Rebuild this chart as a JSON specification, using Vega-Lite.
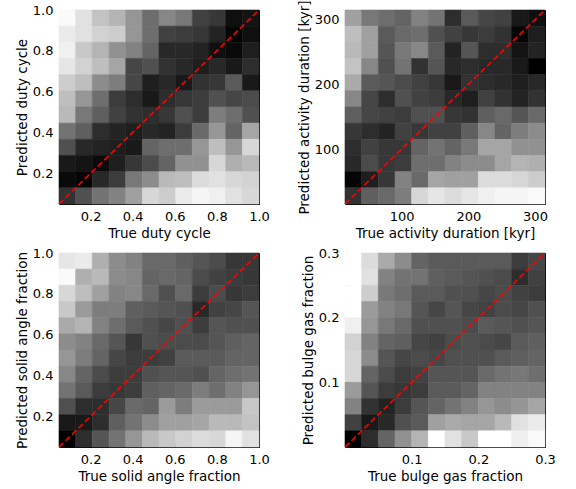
{
"$schema":"https://vega.github.io/schema/vega-lite/v6.json",
"padding":{"left":14,"top":-1,"right":5,"bottom":5},
"bounds":"flush",
"columns":2,
"spacing":{"row":49,"column":86},
"config":{
 "view":{"stroke":"#000000","strokeWidth":1},
 "font":"DejaVu Sans",
 "axis":{"labelFont":"DejaVu Sans","titleFont":"DejaVu Sans","labelFontSize":13,"titleFontSize":13.5,"titleFontWeight":"normal","labelColor":"#000000","titleColor":"#000000","tickColor":"#000000","tickSize":-4,"labelPadding":10,"titlePadding":3,"domain":false,"grid":false,"labelFlush":false,"labelOverlap":false}
},
"datasets":{
"a":[
{"x":0.05,"x2":0.129,"y":0.921,"y2":1,"g":250},{"x":0.129,"x2":0.208,"y":0.921,"y2":1,"g":225},{"x":0.208,"x2":0.288,"y":0.921,"y2":1,"g":195},{"x":0.288,"x2":0.367,"y":0.921,"y2":1,"g":180},{"x":0.367,"x2":0.446,"y":0.921,"y2":1,"g":150},{"x":0.446,"x2":0.525,"y":0.921,"y2":1,"g":110},{"x":0.525,"x2":0.604,"y":0.921,"y2":1,"g":135},{"x":0.604,"x2":0.683,"y":0.921,"y2":1,"g":120},{"x":0.683,"x2":0.763,"y":0.921,"y2":1,"g":65},{"x":0.763,"x2":0.842,"y":0.921,"y2":1,"g":55},{"x":0.842,"x2":0.921,"y":0.921,"y2":1,"g":15},{"x":0.921,"x2":1,"y":0.921,"y2":1,"g":20},
{"x":0.05,"x2":0.129,"y":0.842,"y2":0.921,"g":235},{"x":0.129,"x2":0.208,"y":0.842,"y2":0.921,"g":225},{"x":0.208,"x2":0.288,"y":0.842,"y2":0.921,"g":210},{"x":0.288,"x2":0.367,"y":0.842,"y2":0.921,"g":205},{"x":0.367,"x2":0.446,"y":0.842,"y2":0.921,"g":150},{"x":0.446,"x2":0.525,"y":0.842,"y2":0.921,"g":110},{"x":0.525,"x2":0.604,"y":0.842,"y2":0.921,"g":65},{"x":0.604,"x2":0.683,"y":0.842,"y2":0.921,"g":60},{"x":0.683,"x2":0.763,"y":0.842,"y2":0.921,"g":55},{"x":0.763,"x2":0.842,"y":0.842,"y2":0.921,"g":35},{"x":0.842,"x2":0.921,"y":0.842,"y2":0.921,"g":5},{"x":0.921,"x2":1,"y":0.842,"y2":0.921,"g":15},
{"x":0.05,"x2":0.129,"y":0.763,"y2":0.842,"g":240},{"x":0.129,"x2":0.208,"y":0.763,"y2":0.842,"g":200},{"x":0.208,"x2":0.288,"y":0.763,"y2":0.842,"g":180},{"x":0.288,"x2":0.367,"y":0.763,"y2":0.842,"g":145},{"x":0.367,"x2":0.446,"y":0.763,"y2":0.842,"g":130},{"x":0.446,"x2":0.525,"y":0.763,"y2":0.842,"g":100},{"x":0.525,"x2":0.604,"y":0.763,"y2":0.842,"g":40},{"x":0.604,"x2":0.683,"y":0.763,"y2":0.842,"g":40},{"x":0.683,"x2":0.763,"y":0.763,"y2":0.842,"g":35},{"x":0.763,"x2":0.842,"y":0.763,"y2":0.842,"g":15},{"x":0.842,"x2":0.921,"y":0.763,"y2":0.842,"g":10},{"x":0.921,"x2":1,"y":0.763,"y2":0.842,"g":30},
{"x":0.05,"x2":0.129,"y":0.683,"y2":0.763,"g":230},{"x":0.129,"x2":0.208,"y":0.683,"y2":0.763,"g":210},{"x":0.208,"x2":0.288,"y":0.683,"y2":0.763,"g":190},{"x":0.288,"x2":0.367,"y":0.683,"y2":0.763,"g":165},{"x":0.367,"x2":0.446,"y":0.683,"y2":0.763,"g":70},{"x":0.446,"x2":0.525,"y":0.683,"y2":0.763,"g":80},{"x":0.525,"x2":0.604,"y":0.683,"y2":0.763,"g":50},{"x":0.604,"x2":0.683,"y":0.683,"y2":0.763,"g":40},{"x":0.683,"x2":0.763,"y":0.683,"y2":0.763,"g":30},{"x":0.763,"x2":0.842,"y":0.683,"y2":0.763,"g":40},{"x":0.842,"x2":0.921,"y":0.683,"y2":0.763,"g":25},{"x":0.921,"x2":1,"y":0.683,"y2":0.763,"g":45},
{"x":0.05,"x2":0.129,"y":0.604,"y2":0.683,"g":205},{"x":0.129,"x2":0.208,"y":0.604,"y2":0.683,"g":190},{"x":0.208,"x2":0.288,"y":0.604,"y2":0.683,"g":140},{"x":0.288,"x2":0.367,"y":0.604,"y2":0.683,"g":125},{"x":0.367,"x2":0.446,"y":0.604,"y2":0.683,"g":70},{"x":0.446,"x2":0.525,"y":0.604,"y2":0.683,"g":30},{"x":0.525,"x2":0.604,"y":0.604,"y2":0.683,"g":40},{"x":0.604,"x2":0.683,"y":0.604,"y2":0.683,"g":25},{"x":0.683,"x2":0.763,"y":0.604,"y2":0.683,"g":50},{"x":0.763,"x2":0.842,"y":0.604,"y2":0.683,"g":55},{"x":0.842,"x2":0.921,"y":0.604,"y2":0.683,"g":90},{"x":0.921,"x2":1,"y":0.604,"y2":0.683,"g":25},
{"x":0.05,"x2":0.129,"y":0.525,"y2":0.604,"g":190},{"x":0.129,"x2":0.208,"y":0.525,"y2":0.604,"g":150},{"x":0.208,"x2":0.288,"y":0.525,"y2":0.604,"g":110},{"x":0.288,"x2":0.367,"y":0.525,"y2":0.604,"g":60},{"x":0.367,"x2":0.446,"y":0.525,"y2":0.604,"g":45},{"x":0.446,"x2":0.525,"y":0.525,"y2":0.604,"g":25},{"x":0.525,"x2":0.604,"y":0.525,"y2":0.604,"g":45},{"x":0.604,"x2":0.683,"y":0.525,"y2":0.604,"g":55},{"x":0.683,"x2":0.763,"y":0.525,"y2":0.604,"g":60},{"x":0.763,"x2":0.842,"y":0.525,"y2":0.604,"g":80},{"x":0.842,"x2":0.921,"y":0.525,"y2":0.604,"g":70},{"x":0.921,"x2":1,"y":0.525,"y2":0.604,"g":75},
{"x":0.05,"x2":0.129,"y":0.446,"y2":0.525,"g":185},{"x":0.129,"x2":0.208,"y":0.446,"y2":0.525,"g":120},{"x":0.208,"x2":0.288,"y":0.446,"y2":0.525,"g":95},{"x":0.288,"x2":0.367,"y":0.446,"y2":0.525,"g":65},{"x":0.367,"x2":0.446,"y":0.446,"y2":0.525,"g":50},{"x":0.446,"x2":0.525,"y":0.446,"y2":0.525,"g":45},{"x":0.525,"x2":0.604,"y":0.446,"y2":0.525,"g":55},{"x":0.604,"x2":0.683,"y":0.446,"y2":0.525,"g":80},{"x":0.683,"x2":0.763,"y":0.446,"y2":0.525,"g":60},{"x":0.763,"x2":0.842,"y":0.446,"y2":0.525,"g":125},{"x":0.842,"x2":0.921,"y":0.446,"y2":0.525,"g":110},{"x":0.921,"x2":1,"y":0.446,"y2":0.525,"g":80},
{"x":0.05,"x2":0.129,"y":0.367,"y2":0.446,"g":115},{"x":0.129,"x2":0.208,"y":0.367,"y2":0.446,"g":95},{"x":0.208,"x2":0.288,"y":0.367,"y2":0.446,"g":45},{"x":0.288,"x2":0.367,"y":0.367,"y2":0.446,"g":35},{"x":0.367,"x2":0.446,"y":0.367,"y2":0.446,"g":30},{"x":0.446,"x2":0.525,"y":0.367,"y2":0.446,"g":40},{"x":0.525,"x2":0.604,"y":0.367,"y2":0.446,"g":35},{"x":0.604,"x2":0.683,"y":0.367,"y2":0.446,"g":60},{"x":0.683,"x2":0.763,"y":0.367,"y2":0.446,"g":105},{"x":0.763,"x2":0.842,"y":0.367,"y2":0.446,"g":150},{"x":0.842,"x2":0.921,"y":0.367,"y2":0.446,"g":100},{"x":0.921,"x2":1,"y":0.367,"y2":0.446,"g":165},
{"x":0.05,"x2":0.129,"y":0.288,"y2":0.367,"g":80},{"x":0.129,"x2":0.208,"y":0.288,"y2":0.367,"g":40},{"x":0.208,"x2":0.288,"y":0.288,"y2":0.367,"g":35},{"x":0.288,"x2":0.367,"y":0.288,"y2":0.367,"g":30},{"x":0.367,"x2":0.446,"y":0.288,"y2":0.367,"g":25},{"x":0.446,"x2":0.525,"y":0.288,"y2":0.367,"g":100},{"x":0.525,"x2":0.604,"y":0.288,"y2":0.367,"g":110},{"x":0.604,"x2":0.683,"y":0.288,"y2":0.367,"g":110},{"x":0.683,"x2":0.763,"y":0.288,"y2":0.367,"g":150},{"x":0.763,"x2":0.842,"y":0.288,"y2":0.367,"g":190},{"x":0.842,"x2":0.921,"y":0.288,"y2":0.367,"g":150},{"x":0.921,"x2":1,"y":0.288,"y2":0.367,"g":215},
{"x":0.05,"x2":0.129,"y":0.208,"y2":0.288,"g":25},{"x":0.129,"x2":0.208,"y":0.208,"y2":0.288,"g":20},{"x":0.208,"x2":0.288,"y":0.208,"y2":0.288,"g":10},{"x":0.288,"x2":0.367,"y":0.208,"y2":0.288,"g":30},{"x":0.367,"x2":0.446,"y":0.208,"y2":0.288,"g":55},{"x":0.446,"x2":0.525,"y":0.208,"y2":0.288,"g":75},{"x":0.525,"x2":0.604,"y":0.208,"y2":0.288,"g":100},{"x":0.604,"x2":0.683,"y":0.208,"y2":0.288,"g":145},{"x":0.683,"x2":0.763,"y":0.208,"y2":0.288,"g":145},{"x":0.763,"x2":0.842,"y":0.208,"y2":0.288,"g":215},{"x":0.842,"x2":0.921,"y":0.208,"y2":0.288,"g":175},{"x":0.921,"x2":1,"y":0.208,"y2":0.288,"g":185},
{"x":0.05,"x2":0.129,"y":0.129,"y2":0.208,"g":10},{"x":0.129,"x2":0.208,"y":0.129,"y2":0.208,"g":5},{"x":0.208,"x2":0.288,"y":0.129,"y2":0.208,"g":40},{"x":0.288,"x2":0.367,"y":0.129,"y2":0.208,"g":60},{"x":0.367,"x2":0.446,"y":0.129,"y2":0.208,"g":120},{"x":0.446,"x2":0.525,"y":0.129,"y2":0.208,"g":140},{"x":0.525,"x2":0.604,"y":0.129,"y2":0.208,"g":185},{"x":0.604,"x2":0.683,"y":0.129,"y2":0.208,"g":190},{"x":0.683,"x2":0.763,"y":0.129,"y2":0.208,"g":220},{"x":0.763,"x2":0.842,"y":0.129,"y2":0.208,"g":225},{"x":0.842,"x2":0.921,"y":0.129,"y2":0.208,"g":215},{"x":0.921,"x2":1,"y":0.129,"y2":0.208,"g":210},
{"x":0.05,"x2":0.129,"y":0.05,"y2":0.129,"g":50},{"x":0.129,"x2":0.208,"y":0.05,"y2":0.129,"g":80},{"x":0.208,"x2":0.288,"y":0.05,"y2":0.129,"g":115},{"x":0.288,"x2":0.367,"y":0.05,"y2":0.129,"g":130},{"x":0.367,"x2":0.446,"y":0.05,"y2":0.129,"g":160},{"x":0.446,"x2":0.525,"y":0.05,"y2":0.129,"g":215},{"x":0.525,"x2":0.604,"y":0.05,"y2":0.129,"g":205},{"x":0.604,"x2":0.683,"y":0.05,"y2":0.129,"g":235},{"x":0.683,"x2":0.763,"y":0.05,"y2":0.129,"g":245},{"x":0.763,"x2":0.842,"y":0.05,"y2":0.129,"g":240},{"x":0.842,"x2":0.921,"y":0.05,"y2":0.129,"g":225},{"x":0.921,"x2":1,"y":0.05,"y2":0.129,"g":215}
],
"b":[
{"x":15,"x2":40,"y":290,"y2":315,"g":160},{"x":40,"x2":65,"y":290,"y2":315,"g":120},{"x":65,"x2":90,"y":290,"y2":315,"g":110},{"x":90,"x2":115,"y":290,"y2":315,"g":100},{"x":115,"x2":140,"y":290,"y2":315,"g":130},{"x":140,"x2":165,"y":290,"y2":315,"g":115},{"x":165,"x2":190,"y":290,"y2":315,"g":45},{"x":190,"x2":215,"y":290,"y2":315,"g":90},{"x":215,"x2":240,"y":290,"y2":315,"g":70},{"x":240,"x2":265,"y":290,"y2":315,"g":65},{"x":265,"x2":290,"y":290,"y2":315,"g":25},{"x":290,"x2":315,"y":290,"y2":315,"g":15},
{"x":15,"x2":40,"y":265,"y2":290,"g":190},{"x":40,"x2":65,"y":265,"y2":290,"g":160},{"x":65,"x2":90,"y":265,"y2":290,"g":90},{"x":90,"x2":115,"y":265,"y2":290,"g":105},{"x":115,"x2":140,"y":265,"y2":290,"g":110},{"x":140,"x2":165,"y":265,"y2":290,"g":80},{"x":165,"x2":190,"y":265,"y2":290,"g":65},{"x":190,"x2":215,"y":265,"y2":290,"g":55},{"x":215,"x2":240,"y":265,"y2":290,"g":60},{"x":240,"x2":265,"y":265,"y2":290,"g":50},{"x":265,"x2":290,"y":265,"y2":290,"g":5},{"x":290,"x2":315,"y":265,"y2":290,"g":30},
{"x":15,"x2":40,"y":240,"y2":265,"g":185},{"x":40,"x2":65,"y":240,"y2":265,"g":160},{"x":65,"x2":90,"y":240,"y2":265,"g":85},{"x":90,"x2":115,"y":240,"y2":265,"g":120},{"x":115,"x2":140,"y":240,"y2":265,"g":135},{"x":140,"x2":165,"y":240,"y2":265,"g":90},{"x":165,"x2":190,"y":240,"y2":265,"g":35},{"x":190,"x2":215,"y":240,"y2":265,"g":85},{"x":215,"x2":240,"y":240,"y2":265,"g":45},{"x":240,"x2":265,"y":240,"y2":265,"g":45},{"x":265,"x2":290,"y":240,"y2":265,"g":20},{"x":290,"x2":315,"y":240,"y2":265,"g":35},
{"x":15,"x2":40,"y":215,"y2":240,"g":195},{"x":40,"x2":65,"y":215,"y2":240,"g":135},{"x":65,"x2":90,"y":215,"y2":240,"g":80},{"x":90,"x2":115,"y":215,"y2":240,"g":115},{"x":115,"x2":140,"y":215,"y2":240,"g":50},{"x":140,"x2":165,"y":215,"y2":240,"g":85},{"x":165,"x2":190,"y":215,"y2":240,"g":40},{"x":190,"x2":215,"y":215,"y2":240,"g":45},{"x":215,"x2":240,"y":215,"y2":240,"g":40},{"x":240,"x2":265,"y":215,"y2":240,"g":40},{"x":265,"x2":290,"y":215,"y2":240,"g":25},{"x":290,"x2":315,"y":215,"y2":240,"g":0},
{"x":15,"x2":40,"y":190,"y2":215,"g":170},{"x":40,"x2":65,"y":190,"y2":215,"g":90},{"x":65,"x2":90,"y":190,"y2":215,"g":85},{"x":90,"x2":115,"y":190,"y2":215,"g":75},{"x":115,"x2":140,"y":190,"y2":215,"g":65},{"x":140,"x2":165,"y":190,"y2":215,"g":55},{"x":165,"x2":190,"y":190,"y2":215,"g":25},{"x":190,"x2":215,"y":190,"y2":215,"g":50},{"x":215,"x2":240,"y":190,"y2":215,"g":45},{"x":240,"x2":265,"y":190,"y2":215,"g":40},{"x":265,"x2":290,"y":190,"y2":215,"g":30},{"x":290,"x2":315,"y":190,"y2":215,"g":40},
{"x":15,"x2":40,"y":165,"y2":190,"g":135},{"x":40,"x2":65,"y":165,"y2":190,"g":70},{"x":65,"x2":90,"y":165,"y2":190,"g":45},{"x":90,"x2":115,"y":165,"y2":190,"g":80},{"x":115,"x2":140,"y":165,"y2":190,"g":65},{"x":140,"x2":165,"y":165,"y2":190,"g":60},{"x":165,"x2":190,"y":165,"y2":190,"g":40},{"x":190,"x2":215,"y":165,"y2":190,"g":30},{"x":215,"x2":240,"y":165,"y2":190,"g":65},{"x":240,"x2":265,"y":165,"y2":190,"g":50},{"x":265,"x2":290,"y":165,"y2":190,"g":35},{"x":290,"x2":315,"y":165,"y2":190,"g":50},
{"x":15,"x2":40,"y":140,"y2":165,"g":95},{"x":40,"x2":65,"y":140,"y2":165,"g":70},{"x":65,"x2":90,"y":140,"y2":165,"g":65},{"x":90,"x2":115,"y":140,"y2":165,"g":60},{"x":115,"x2":140,"y":140,"y2":165,"g":80},{"x":140,"x2":165,"y":140,"y2":165,"g":80},{"x":165,"x2":190,"y":140,"y2":165,"g":55},{"x":190,"x2":215,"y":140,"y2":165,"g":50},{"x":215,"x2":240,"y":140,"y2":165,"g":95},{"x":240,"x2":265,"y":140,"y2":165,"g":105},{"x":265,"x2":290,"y":140,"y2":165,"g":85},{"x":290,"x2":315,"y":140,"y2":165,"g":105},
{"x":15,"x2":40,"y":115,"y2":140,"g":55},{"x":40,"x2":65,"y":115,"y2":140,"g":45},{"x":65,"x2":90,"y":115,"y2":140,"g":35},{"x":90,"x2":115,"y":115,"y2":140,"g":65},{"x":115,"x2":140,"y":115,"y2":140,"g":55},{"x":140,"x2":165,"y":115,"y2":140,"g":65},{"x":165,"x2":190,"y":115,"y2":140,"g":65},{"x":190,"x2":215,"y":115,"y2":140,"g":95},{"x":215,"x2":240,"y":115,"y2":140,"g":135},{"x":240,"x2":265,"y":115,"y2":140,"g":100},{"x":265,"x2":290,"y":115,"y2":140,"g":125},{"x":290,"x2":315,"y":115,"y2":140,"g":140},
{"x":15,"x2":40,"y":90,"y2":115,"g":45},{"x":40,"x2":65,"y":90,"y2":115,"g":65},{"x":65,"x2":90,"y":90,"y2":115,"g":55},{"x":90,"x2":115,"y":90,"y2":115,"g":55},{"x":115,"x2":140,"y":90,"y2":115,"g":100},{"x":140,"x2":165,"y":90,"y2":115,"g":115},{"x":165,"x2":190,"y":90,"y2":115,"g":100},{"x":190,"x2":215,"y":90,"y2":115,"g":120},{"x":215,"x2":240,"y":90,"y2":115,"g":165},{"x":240,"x2":265,"y":90,"y2":115,"g":165},{"x":265,"x2":290,"y":90,"y2":115,"g":145},{"x":290,"x2":315,"y":90,"y2":115,"g":145},
{"x":15,"x2":40,"y":65,"y2":90,"g":40},{"x":40,"x2":65,"y":65,"y2":90,"g":75},{"x":65,"x2":90,"y":65,"y2":90,"g":55},{"x":90,"x2":115,"y":65,"y2":90,"g":60},{"x":115,"x2":140,"y":65,"y2":90,"g":110},{"x":140,"x2":165,"y":65,"y2":90,"g":110},{"x":165,"x2":190,"y":65,"y2":90,"g":130},{"x":190,"x2":215,"y":65,"y2":90,"g":140},{"x":215,"x2":240,"y":65,"y2":90,"g":140},{"x":240,"x2":265,"y":65,"y2":90,"g":165},{"x":265,"x2":290,"y":65,"y2":90,"g":180},{"x":290,"x2":315,"y":65,"y2":90,"g":175},
{"x":15,"x2":40,"y":40,"y2":65,"g":5},{"x":40,"x2":65,"y":40,"y2":65,"g":30},{"x":65,"x2":90,"y":40,"y2":65,"g":55},{"x":90,"x2":115,"y":40,"y2":65,"g":130},{"x":115,"x2":140,"y":40,"y2":65,"g":105},{"x":140,"x2":165,"y":40,"y2":65,"g":165},{"x":165,"x2":190,"y":40,"y2":65,"g":160},{"x":190,"x2":215,"y":40,"y2":65,"g":160},{"x":215,"x2":240,"y":40,"y2":65,"g":220},{"x":240,"x2":265,"y":40,"y2":65,"g":220},{"x":265,"x2":290,"y":40,"y2":65,"g":215},{"x":290,"x2":315,"y":40,"y2":65,"g":205},
{"x":15,"x2":40,"y":15,"y2":40,"g":50},{"x":40,"x2":65,"y":15,"y2":40,"g":95},{"x":65,"x2":90,"y":15,"y2":40,"g":105},{"x":90,"x2":115,"y":15,"y2":40,"g":125},{"x":115,"x2":140,"y":15,"y2":40,"g":215},{"x":140,"x2":165,"y":15,"y2":40,"g":230},{"x":165,"x2":190,"y":15,"y2":40,"g":220},{"x":190,"x2":215,"y":15,"y2":40,"g":230},{"x":215,"x2":240,"y":15,"y2":40,"g":240},{"x":240,"x2":265,"y":15,"y2":40,"g":245},{"x":265,"x2":290,"y":15,"y2":40,"g":245},{"x":290,"x2":315,"y":15,"y2":40,"g":250}
],
"c":[
{"x":0.05,"x2":0.129,"y":0.921,"y2":1,"g":230},{"x":0.129,"x2":0.208,"y":0.921,"y2":1,"g":235},{"x":0.208,"x2":0.288,"y":0.921,"y2":1,"g":175},{"x":0.288,"x2":0.367,"y":0.921,"y2":1,"g":140},{"x":0.367,"x2":0.446,"y":0.921,"y2":1,"g":130},{"x":0.446,"x2":0.525,"y":0.921,"y2":1,"g":105},{"x":0.525,"x2":0.604,"y":0.921,"y2":1,"g":105},{"x":0.604,"x2":0.683,"y":0.921,"y2":1,"g":95},{"x":0.683,"x2":0.763,"y":0.921,"y2":1,"g":85},{"x":0.763,"x2":0.842,"y":0.921,"y2":1,"g":75},{"x":0.842,"x2":0.921,"y":0.921,"y2":1,"g":55},{"x":0.921,"x2":1,"y":0.921,"y2":1,"g":55},
{"x":0.05,"x2":0.129,"y":0.842,"y2":0.921,"g":250},{"x":0.129,"x2":0.208,"y":0.842,"y2":0.921,"g":175},{"x":0.208,"x2":0.288,"y":0.842,"y2":0.921,"g":185},{"x":0.288,"x2":0.367,"y":0.842,"y2":0.921,"g":140},{"x":0.367,"x2":0.446,"y":0.842,"y2":0.921,"g":135},{"x":0.446,"x2":0.525,"y":0.842,"y2":0.921,"g":100},{"x":0.525,"x2":0.604,"y":0.842,"y2":0.921,"g":105},{"x":0.604,"x2":0.683,"y":0.842,"y2":0.921,"g":100},{"x":0.683,"x2":0.763,"y":0.842,"y2":0.921,"g":75},{"x":0.763,"x2":0.842,"y":0.842,"y2":0.921,"g":65},{"x":0.842,"x2":0.921,"y":0.842,"y2":0.921,"g":60},{"x":0.921,"x2":1,"y":0.842,"y2":0.921,"g":55},
{"x":0.05,"x2":0.129,"y":0.763,"y2":0.842,"g":215},{"x":0.129,"x2":0.208,"y":0.763,"y2":0.842,"g":190},{"x":0.208,"x2":0.288,"y":0.763,"y2":0.842,"g":160},{"x":0.288,"x2":0.367,"y":0.763,"y2":0.842,"g":130},{"x":0.367,"x2":0.446,"y":0.763,"y2":0.842,"g":135},{"x":0.446,"x2":0.525,"y":0.763,"y2":0.842,"g":105},{"x":0.525,"x2":0.604,"y":0.763,"y2":0.842,"g":80},{"x":0.604,"x2":0.683,"y":0.763,"y2":0.842,"g":105},{"x":0.683,"x2":0.763,"y":0.763,"y2":0.842,"g":60},{"x":0.763,"x2":0.842,"y":0.763,"y2":0.842,"g":75},{"x":0.842,"x2":0.921,"y":0.763,"y2":0.842,"g":55},{"x":0.921,"x2":1,"y":0.763,"y2":0.842,"g":60},
{"x":0.05,"x2":0.129,"y":0.683,"y2":0.763,"g":200},{"x":0.129,"x2":0.208,"y":0.683,"y2":0.763,"g":155},{"x":0.208,"x2":0.288,"y":0.683,"y2":0.763,"g":125},{"x":0.288,"x2":0.367,"y":0.683,"y2":0.763,"g":125},{"x":0.367,"x2":0.446,"y":0.683,"y2":0.763,"g":95},{"x":0.446,"x2":0.525,"y":0.683,"y2":0.763,"g":90},{"x":0.525,"x2":0.604,"y":0.683,"y2":0.763,"g":85},{"x":0.604,"x2":0.683,"y":0.683,"y2":0.763,"g":80},{"x":0.683,"x2":0.763,"y":0.683,"y2":0.763,"g":40},{"x":0.763,"x2":0.842,"y":0.683,"y2":0.763,"g":65},{"x":0.842,"x2":0.921,"y":0.683,"y2":0.763,"g":70},{"x":0.921,"x2":1,"y":0.683,"y2":0.763,"g":85},
{"x":0.05,"x2":0.129,"y":0.604,"y2":0.683,"g":170},{"x":0.129,"x2":0.208,"y":0.604,"y2":0.683,"g":180},{"x":0.208,"x2":0.288,"y":0.604,"y2":0.683,"g":130},{"x":0.288,"x2":0.367,"y":0.604,"y2":0.683,"g":110},{"x":0.367,"x2":0.446,"y":0.604,"y2":0.683,"g":90},{"x":0.446,"x2":0.525,"y":0.604,"y2":0.683,"g":80},{"x":0.525,"x2":0.604,"y":0.604,"y2":0.683,"g":70},{"x":0.604,"x2":0.683,"y":0.604,"y2":0.683,"g":80},{"x":0.683,"x2":0.763,"y":0.604,"y2":0.683,"g":60},{"x":0.763,"x2":0.842,"y":0.604,"y2":0.683,"g":85},{"x":0.842,"x2":0.921,"y":0.604,"y2":0.683,"g":80},{"x":0.921,"x2":1,"y":0.604,"y2":0.683,"g":80},
{"x":0.05,"x2":0.129,"y":0.525,"y2":0.604,"g":140},{"x":0.129,"x2":0.208,"y":0.525,"y2":0.604,"g":130},{"x":0.208,"x2":0.288,"y":0.525,"y2":0.604,"g":105},{"x":0.288,"x2":0.367,"y":0.525,"y2":0.604,"g":85},{"x":0.367,"x2":0.446,"y":0.525,"y2":0.604,"g":55},{"x":0.446,"x2":0.525,"y":0.525,"y2":0.604,"g":80},{"x":0.525,"x2":0.604,"y":0.525,"y2":0.604,"g":75},{"x":0.604,"x2":0.683,"y":0.525,"y2":0.604,"g":75},{"x":0.683,"x2":0.763,"y":0.525,"y2":0.604,"g":75},{"x":0.763,"x2":0.842,"y":0.525,"y2":0.604,"g":85},{"x":0.842,"x2":0.921,"y":0.525,"y2":0.604,"g":95},{"x":0.921,"x2":1,"y":0.525,"y2":0.604,"g":100},
{"x":0.05,"x2":0.129,"y":0.446,"y2":0.525,"g":150},{"x":0.129,"x2":0.208,"y":0.446,"y2":0.525,"g":125},{"x":0.208,"x2":0.288,"y":0.446,"y2":0.525,"g":100},{"x":0.288,"x2":0.367,"y":0.446,"y2":0.525,"g":70},{"x":0.367,"x2":0.446,"y":0.446,"y2":0.525,"g":60},{"x":0.446,"x2":0.525,"y":0.446,"y2":0.525,"g":60},{"x":0.525,"x2":0.604,"y":0.446,"y2":0.525,"g":65},{"x":0.604,"x2":0.683,"y":0.446,"y2":0.525,"g":90},{"x":0.683,"x2":0.763,"y":0.446,"y2":0.525,"g":90},{"x":0.763,"x2":0.842,"y":0.446,"y2":0.525,"g":90},{"x":0.842,"x2":0.921,"y":0.446,"y2":0.525,"g":100},{"x":0.921,"x2":1,"y":0.446,"y2":0.525,"g":100},
{"x":0.05,"x2":0.129,"y":0.367,"y2":0.446,"g":135},{"x":0.129,"x2":0.208,"y":0.367,"y2":0.446,"g":100},{"x":0.208,"x2":0.288,"y":0.367,"y2":0.446,"g":75},{"x":0.288,"x2":0.367,"y":0.367,"y2":0.446,"g":60},{"x":0.367,"x2":0.446,"y":0.367,"y2":0.446,"g":60},{"x":0.446,"x2":0.525,"y":0.367,"y2":0.446,"g":80},{"x":0.525,"x2":0.604,"y":0.367,"y2":0.446,"g":85},{"x":0.604,"x2":0.683,"y":0.367,"y2":0.446,"g":85},{"x":0.683,"x2":0.763,"y":0.367,"y2":0.446,"g":80},{"x":0.763,"x2":0.842,"y":0.367,"y2":0.446,"g":100},{"x":0.842,"x2":0.921,"y":0.367,"y2":0.446,"g":110},{"x":0.921,"x2":1,"y":0.367,"y2":0.446,"g":115},
{"x":0.05,"x2":0.129,"y":0.288,"y2":0.367,"g":115},{"x":0.129,"x2":0.208,"y":0.288,"y2":0.367,"g":90},{"x":0.208,"x2":0.288,"y":0.288,"y2":0.367,"g":60},{"x":0.288,"x2":0.367,"y":0.288,"y2":0.367,"g":55},{"x":0.367,"x2":0.446,"y":0.288,"y2":0.367,"g":60},{"x":0.446,"x2":0.525,"y":0.288,"y2":0.367,"g":95},{"x":0.525,"x2":0.604,"y":0.288,"y2":0.367,"g":100},{"x":0.604,"x2":0.683,"y":0.288,"y2":0.367,"g":105},{"x":0.683,"x2":0.763,"y":0.288,"y2":0.367,"g":125},{"x":0.763,"x2":0.842,"y":0.288,"y2":0.367,"g":110},{"x":0.842,"x2":0.921,"y":0.288,"y2":0.367,"g":130},{"x":0.921,"x2":1,"y":0.288,"y2":0.367,"g":150},
{"x":0.05,"x2":0.129,"y":0.208,"y2":0.288,"g":80},{"x":0.129,"x2":0.208,"y":0.208,"y2":0.288,"g":45},{"x":0.208,"x2":0.288,"y":0.208,"y2":0.288,"g":45},{"x":0.288,"x2":0.367,"y":0.208,"y2":0.288,"g":70},{"x":0.367,"x2":0.446,"y":0.208,"y2":0.288,"g":105},{"x":0.446,"x2":0.525,"y":0.208,"y2":0.288,"g":100},{"x":0.525,"x2":0.604,"y":0.208,"y2":0.288,"g":155},{"x":0.604,"x2":0.683,"y":0.208,"y2":0.288,"g":125},{"x":0.683,"x2":0.763,"y":0.208,"y2":0.288,"g":155},{"x":0.763,"x2":0.842,"y":0.208,"y2":0.288,"g":155},{"x":0.842,"x2":0.921,"y":0.208,"y2":0.288,"g":155},{"x":0.921,"x2":1,"y":0.208,"y2":0.288,"g":200},
{"x":0.05,"x2":0.129,"y":0.129,"y2":0.208,"g":25},{"x":0.129,"x2":0.208,"y":0.129,"y2":0.208,"g":25},{"x":0.208,"x2":0.288,"y":0.129,"y2":0.208,"g":45},{"x":0.288,"x2":0.367,"y":0.129,"y2":0.208,"g":95},{"x":0.367,"x2":0.446,"y":0.129,"y2":0.208,"g":115},{"x":0.446,"x2":0.525,"y":0.129,"y2":0.208,"g":140},{"x":0.525,"x2":0.604,"y":0.129,"y2":0.208,"g":160},{"x":0.604,"x2":0.683,"y":0.129,"y2":0.208,"g":160},{"x":0.683,"x2":0.763,"y":0.129,"y2":0.208,"g":165},{"x":0.763,"x2":0.842,"y":0.129,"y2":0.208,"g":185},{"x":0.842,"x2":0.921,"y":0.129,"y2":0.208,"g":185},{"x":0.921,"x2":1,"y":0.129,"y2":0.208,"g":195},
{"x":0.05,"x2":0.129,"y":0.05,"y2":0.129,"g":0},{"x":0.129,"x2":0.208,"y":0.05,"y2":0.129,"g":45},{"x":0.208,"x2":0.288,"y":0.05,"y2":0.129,"g":85},{"x":0.288,"x2":0.367,"y":0.05,"y2":0.129,"g":115},{"x":0.367,"x2":0.446,"y":0.05,"y2":0.129,"g":150},{"x":0.446,"x2":0.525,"y":0.05,"y2":0.129,"g":185},{"x":0.525,"x2":0.604,"y":0.05,"y2":0.129,"g":200},{"x":0.604,"x2":0.683,"y":0.05,"y2":0.129,"g":210},{"x":0.683,"x2":0.763,"y":0.05,"y2":0.129,"g":220},{"x":0.763,"x2":0.842,"y":0.05,"y2":0.129,"g":215},{"x":0.842,"x2":0.921,"y":0.05,"y2":0.129,"g":245},{"x":0.921,"x2":1,"y":0.05,"y2":0.129,"g":225}
],
"d":[
{"x":0,"x2":0.025,"y":0.275,"y2":0.3,"g":255},{"x":0.025,"x2":0.05,"y":0.275,"y2":0.3,"g":220},{"x":0.05,"x2":0.075,"y":0.275,"y2":0.3,"g":170},{"x":0.075,"x2":0.1,"y":0.275,"y2":0.3,"g":140},{"x":0.1,"x2":0.125,"y":0.275,"y2":0.3,"g":100},{"x":0.125,"x2":0.15,"y":0.275,"y2":0.3,"g":90},{"x":0.15,"x2":0.175,"y":0.275,"y2":0.3,"g":90},{"x":0.175,"x2":0.2,"y":0.275,"y2":0.3,"g":90},{"x":0.2,"x2":0.225,"y":0.275,"y2":0.3,"g":90},{"x":0.225,"x2":0.25,"y":0.275,"y2":0.3,"g":90},{"x":0.25,"x2":0.275,"y":0.275,"y2":0.3,"g":60},{"x":0.275,"x2":0.3,"y":0.275,"y2":0.3,"g":70},
{"x":0,"x2":0.025,"y":0.25,"y2":0.275,"g":255},{"x":0.025,"x2":0.05,"y":0.25,"y2":0.275,"g":225},{"x":0.05,"x2":0.075,"y":0.25,"y2":0.275,"g":130},{"x":0.075,"x2":0.1,"y":0.25,"y2":0.275,"g":115},{"x":0.1,"x2":0.125,"y":0.25,"y2":0.275,"g":115},{"x":0.125,"x2":0.15,"y":0.25,"y2":0.275,"g":95},{"x":0.15,"x2":0.175,"y":0.25,"y2":0.275,"g":90},{"x":0.175,"x2":0.2,"y":0.25,"y2":0.275,"g":85},{"x":0.2,"x2":0.225,"y":0.25,"y2":0.275,"g":80},{"x":0.225,"x2":0.25,"y":0.25,"y2":0.275,"g":75},{"x":0.25,"x2":0.275,"y":0.25,"y2":0.275,"g":45},{"x":0.275,"x2":0.3,"y":0.25,"y2":0.275,"g":65},
{"x":0,"x2":0.025,"y":0.225,"y2":0.25,"g":255},{"x":0.025,"x2":0.05,"y":0.225,"y2":0.25,"g":205},{"x":0.05,"x2":0.075,"y":0.225,"y2":0.25,"g":120},{"x":0.075,"x2":0.1,"y":0.225,"y2":0.25,"g":110},{"x":0.1,"x2":0.125,"y":0.225,"y2":0.25,"g":90},{"x":0.125,"x2":0.15,"y":0.225,"y2":0.25,"g":90},{"x":0.15,"x2":0.175,"y":0.225,"y2":0.25,"g":80},{"x":0.175,"x2":0.2,"y":0.225,"y2":0.25,"g":80},{"x":0.2,"x2":0.225,"y":0.225,"y2":0.25,"g":70},{"x":0.225,"x2":0.25,"y":0.225,"y2":0.25,"g":75},{"x":0.25,"x2":0.275,"y":0.225,"y2":0.25,"g":65},{"x":0.275,"x2":0.3,"y":0.225,"y2":0.25,"g":60},
{"x":0,"x2":0.025,"y":0.2,"y2":0.225,"g":255},{"x":0.025,"x2":0.05,"y":0.2,"y2":0.225,"g":155},{"x":0.05,"x2":0.075,"y":0.2,"y2":0.225,"g":130},{"x":0.075,"x2":0.1,"y":0.2,"y2":0.225,"g":120},{"x":0.1,"x2":0.125,"y":0.2,"y2":0.225,"g":85},{"x":0.125,"x2":0.15,"y":0.2,"y2":0.225,"g":70},{"x":0.15,"x2":0.175,"y":0.2,"y2":0.225,"g":85},{"x":0.175,"x2":0.2,"y":0.2,"y2":0.225,"g":70},{"x":0.2,"x2":0.225,"y":0.2,"y2":0.225,"g":65},{"x":0.225,"x2":0.25,"y":0.2,"y2":0.225,"g":75},{"x":0.25,"x2":0.275,"y":0.2,"y2":0.225,"g":70},{"x":0.275,"x2":0.3,"y":0.2,"y2":0.225,"g":80},
{"x":0,"x2":0.025,"y":0.175,"y2":0.2,"g":240},{"x":0.025,"x2":0.05,"y":0.175,"y2":0.2,"g":150},{"x":0.05,"x2":0.075,"y":0.175,"y2":0.2,"g":120},{"x":0.075,"x2":0.1,"y":0.175,"y2":0.2,"g":105},{"x":0.1,"x2":0.125,"y":0.175,"y2":0.2,"g":80},{"x":0.125,"x2":0.15,"y":0.175,"y2":0.2,"g":80},{"x":0.15,"x2":0.175,"y":0.175,"y2":0.2,"g":80},{"x":0.175,"x2":0.2,"y":0.175,"y2":0.2,"g":75},{"x":0.2,"x2":0.225,"y":0.175,"y2":0.2,"g":90},{"x":0.225,"x2":0.25,"y":0.175,"y2":0.2,"g":85},{"x":0.25,"x2":0.275,"y":0.175,"y2":0.2,"g":80},{"x":0.275,"x2":0.3,"y":0.175,"y2":0.2,"g":85},
{"x":0,"x2":0.025,"y":0.15,"y2":0.175,"g":210},{"x":0.025,"x2":0.05,"y":0.15,"y2":0.175,"g":130},{"x":0.05,"x2":0.075,"y":0.15,"y2":0.175,"g":100},{"x":0.075,"x2":0.1,"y":0.15,"y2":0.175,"g":95},{"x":0.1,"x2":0.125,"y":0.15,"y2":0.175,"g":70},{"x":0.125,"x2":0.15,"y":0.15,"y2":0.175,"g":65},{"x":0.15,"x2":0.175,"y":0.15,"y2":0.175,"g":75},{"x":0.175,"x2":0.2,"y":0.15,"y2":0.175,"g":80},{"x":0.2,"x2":0.225,"y":0.15,"y2":0.175,"g":75},{"x":0.225,"x2":0.25,"y":0.15,"y2":0.175,"g":70},{"x":0.25,"x2":0.275,"y":0.15,"y2":0.175,"g":90},{"x":0.275,"x2":0.3,"y":0.15,"y2":0.175,"g":95},
{"x":0,"x2":0.025,"y":0.125,"y2":0.15,"g":215},{"x":0.025,"x2":0.05,"y":0.125,"y2":0.15,"g":140},{"x":0.05,"x2":0.075,"y":0.125,"y2":0.15,"g":85},{"x":0.075,"x2":0.1,"y":0.125,"y2":0.15,"g":70},{"x":0.1,"x2":0.125,"y":0.125,"y2":0.15,"g":75},{"x":0.125,"x2":0.15,"y":0.125,"y2":0.15,"g":70},{"x":0.15,"x2":0.175,"y":0.125,"y2":0.15,"g":80},{"x":0.175,"x2":0.2,"y":0.125,"y2":0.15,"g":80},{"x":0.2,"x2":0.225,"y":0.125,"y2":0.15,"g":80},{"x":0.225,"x2":0.25,"y":0.125,"y2":0.15,"g":90},{"x":0.25,"x2":0.275,"y":0.125,"y2":0.15,"g":95},{"x":0.275,"x2":0.3,"y":0.125,"y2":0.15,"g":100},
{"x":0,"x2":0.025,"y":0.1,"y2":0.125,"g":215},{"x":0.025,"x2":0.05,"y":0.1,"y2":0.125,"g":100},{"x":0.05,"x2":0.075,"y":0.1,"y2":0.125,"g":75},{"x":0.075,"x2":0.1,"y":0.1,"y2":0.125,"g":60},{"x":0.1,"x2":0.125,"y":0.1,"y2":0.125,"g":65},{"x":0.125,"x2":0.15,"y":0.1,"y2":0.125,"g":85},{"x":0.15,"x2":0.175,"y":0.1,"y2":0.125,"g":85},{"x":0.175,"x2":0.2,"y":0.1,"y2":0.125,"g":85},{"x":0.2,"x2":0.225,"y":0.1,"y2":0.125,"g":105},{"x":0.225,"x2":0.25,"y":0.1,"y2":0.125,"g":115},{"x":0.25,"x2":0.275,"y":0.1,"y2":0.125,"g":120},{"x":0.275,"x2":0.3,"y":0.1,"y2":0.125,"g":110},
{"x":0,"x2":0.025,"y":0.075,"y2":0.1,"g":155},{"x":0.025,"x2":0.05,"y":0.075,"y2":0.1,"g":85},{"x":0.05,"x2":0.075,"y":0.075,"y2":0.1,"g":60},{"x":0.075,"x2":0.1,"y":0.075,"y2":0.1,"g":55},{"x":0.1,"x2":0.125,"y":0.075,"y2":0.1,"g":60},{"x":0.125,"x2":0.15,"y":0.075,"y2":0.1,"g":90},{"x":0.15,"x2":0.175,"y":0.075,"y2":0.1,"g":90},{"x":0.175,"x2":0.2,"y":0.075,"y2":0.1,"g":100},{"x":0.2,"x2":0.225,"y":0.075,"y2":0.1,"g":130},{"x":0.225,"x2":0.25,"y":0.075,"y2":0.1,"g":130},{"x":0.25,"x2":0.275,"y":0.075,"y2":0.1,"g":130},{"x":0.275,"x2":0.3,"y":0.075,"y2":0.1,"g":130},
{"x":0,"x2":0.025,"y":0.05,"y2":0.075,"g":130},{"x":0.025,"x2":0.05,"y":0.05,"y2":0.075,"g":50},{"x":0.05,"x2":0.075,"y":0.05,"y2":0.075,"g":35},{"x":0.075,"x2":0.1,"y":0.05,"y2":0.075,"g":60},{"x":0.1,"x2":0.125,"y":0.05,"y2":0.075,"g":85},{"x":0.125,"x2":0.15,"y":0.05,"y2":0.075,"g":100},{"x":0.15,"x2":0.175,"y":0.05,"y2":0.075,"g":115},{"x":0.175,"x2":0.2,"y":0.05,"y2":0.075,"g":130},{"x":0.2,"x2":0.225,"y":0.05,"y2":0.075,"g":150},{"x":0.225,"x2":0.25,"y":0.05,"y2":0.075,"g":140},{"x":0.25,"x2":0.275,"y":0.05,"y2":0.075,"g":150},{"x":0.275,"x2":0.3,"y":0.05,"y2":0.075,"g":165},
{"x":0,"x2":0.025,"y":0.025,"y2":0.05,"g":65},{"x":0.025,"x2":0.05,"y":0.025,"y2":0.05,"g":25},{"x":0.05,"x2":0.075,"y":0.025,"y2":0.05,"g":40},{"x":0.075,"x2":0.1,"y":0.025,"y2":0.05,"g":80},{"x":0.1,"x2":0.125,"y":0.025,"y2":0.05,"g":90},{"x":0.125,"x2":0.15,"y":0.025,"y2":0.05,"g":160},{"x":0.15,"x2":0.175,"y":0.025,"y2":0.05,"g":170},{"x":0.175,"x2":0.2,"y":0.025,"y2":0.05,"g":165},{"x":0.2,"x2":0.225,"y":0.025,"y2":0.05,"g":165},{"x":0.225,"x2":0.25,"y":0.025,"y2":0.05,"g":185},{"x":0.25,"x2":0.275,"y":0.025,"y2":0.05,"g":225},{"x":0.275,"x2":0.3,"y":0.025,"y2":0.05,"g":235},
{"x":0,"x2":0.025,"y":0,"y2":0.025,"g":0},{"x":0.025,"x2":0.05,"y":0,"y2":0.025,"g":45},{"x":0.05,"x2":0.075,"y":0,"y2":0.025,"g":100},{"x":0.075,"x2":0.1,"y":0,"y2":0.025,"g":145},{"x":0.1,"x2":0.125,"y":0,"y2":0.025,"g":180},{"x":0.125,"x2":0.15,"y":0,"y2":0.025,"g":255},{"x":0.15,"x2":0.175,"y":0,"y2":0.025,"g":225},{"x":0.175,"x2":0.2,"y":0,"y2":0.025,"g":200},{"x":0.2,"x2":0.225,"y":0,"y2":0.025,"g":255},{"x":0.225,"x2":0.25,"y":0,"y2":0.025,"g":255},{"x":0.25,"x2":0.275,"y":0,"y2":0.025,"g":240},{"x":0.275,"x2":0.3,"y":0,"y2":0.025,"g":250}
]
},
"concat":[
{"width":200,"height":194,"data":{"name":"a"},
 "layer":[
  {"mark":{"type":"rect","strokeWidth":0.6},
   "encoding":{
    "x":{"field":"x","type":"quantitative","scale":{"domain":[0.05,1],"nice":false,"zero":false},"axis":{"title":"True duty cycle","values":[0.2,0.4,0.6,0.8,1.0],"format":".1f"}},
    "x2":{"field":"x2"},
    "y":{"field":"y","type":"quantitative","scale":{"domain":[0.05,1],"nice":false,"zero":false},"axis":{"title":"Predicted duty cycle","values":[0.2,0.4,0.6,0.8,1.0],"format":".1f"}},
    "y2":{"field":"y2"},
    "color":{"field":"g","type":"quantitative","scale":{"domain":[0,255],"range":["#000000","#ffffff"],"interpolate":"rgb"},"legend":null},
    "stroke":{"field":"g","type":"quantitative","scale":{"domain":[0,255],"range":["#000000","#ffffff"],"interpolate":"rgb"},"legend":null}}},
  {"data":{"values":[{"x":0.05,"y":0.05,"x2":1,"y2":1}]},
   "mark":{"type":"rule","color":"#ff0000","strokeDash":[6,3],"strokeWidth":1.6},
   "encoding":{
    "x":{"field":"x","type":"quantitative","scale":{"domain":[0.05,1],"nice":false,"zero":false},"axis":null},
    "x2":{"field":"x2"},
    "y":{"field":"y","type":"quantitative","scale":{"domain":[0.05,1],"nice":false,"zero":false},"axis":{"orient":"right","labels":false,"title":null,"values":[0.2,0.4,0.6,0.8,1.0]}},
    "y2":{"field":"y2"}}}
 ],
 "resolve":{"axis":{"x":"independent","y":"independent"}}},
{"width":200,"height":194,"data":{"name":"b"},
 "layer":[
  {"mark":{"type":"rect","strokeWidth":0.6},
   "encoding":{
    "x":{"field":"x","type":"quantitative","scale":{"domain":[15,315],"nice":false,"zero":false},"axis":{"title":"True activity duration [kyr]","values":[50,100,150,200,250,300],"labelExpr":"datum.value % 100 === 0 ? datum.label : ''"}},
    "x2":{"field":"x2"},
    "y":{"field":"y","type":"quantitative","scale":{"domain":[15,315],"nice":false,"zero":false},"axis":{"title":"Predicted activity duration [kyr]","values":[50,100,150,200,250,300],"labelExpr":"datum.value % 100 === 0 ? datum.label : ''"}},
    "y2":{"field":"y2"},
    "color":{"field":"g","type":"quantitative","scale":{"domain":[0,255],"range":["#000000","#ffffff"],"interpolate":"rgb"},"legend":null},
    "stroke":{"field":"g","type":"quantitative","scale":{"domain":[0,255],"range":["#000000","#ffffff"],"interpolate":"rgb"},"legend":null}}},
  {"data":{"values":[{"x":15,"y":15,"x2":315,"y2":315}]},
   "mark":{"type":"rule","color":"#ff0000","strokeDash":[6,3],"strokeWidth":1.6},
   "encoding":{
    "x":{"field":"x","type":"quantitative","scale":{"domain":[15,315],"nice":false,"zero":false},"axis":null},
    "x2":{"field":"x2"},
    "y":{"field":"y","type":"quantitative","scale":{"domain":[15,315],"nice":false,"zero":false},"axis":{"orient":"right","labels":false,"title":null,"values":[50,100,150,200,250,300]}},
    "y2":{"field":"y2"}}}
 ],
 "resolve":{"axis":{"x":"independent","y":"independent"}}},
{"width":200,"height":194,"data":{"name":"c"},
 "layer":[
  {"mark":{"type":"rect","strokeWidth":0.6},
   "encoding":{
    "x":{"field":"x","type":"quantitative","scale":{"domain":[0.05,1],"nice":false,"zero":false},"axis":{"title":"True solid angle fraction","values":[0.2,0.4,0.6,0.8,1.0],"format":".1f"}},
    "x2":{"field":"x2"},
    "y":{"field":"y","type":"quantitative","scale":{"domain":[0.05,1],"nice":false,"zero":false},"axis":{"title":"Predicted solid angle fraction","values":[0.2,0.4,0.6,0.8,1.0],"format":".1f"}},
    "y2":{"field":"y2"},
    "color":{"field":"g","type":"quantitative","scale":{"domain":[0,255],"range":["#000000","#ffffff"],"interpolate":"rgb"},"legend":null},
    "stroke":{"field":"g","type":"quantitative","scale":{"domain":[0,255],"range":["#000000","#ffffff"],"interpolate":"rgb"},"legend":null}}},
  {"data":{"values":[{"x":0.05,"y":0.05,"x2":1,"y2":1}]},
   "mark":{"type":"rule","color":"#ff0000","strokeDash":[6,3],"strokeWidth":1.6},
   "encoding":{
    "x":{"field":"x","type":"quantitative","scale":{"domain":[0.05,1],"nice":false,"zero":false},"axis":null},
    "x2":{"field":"x2"},
    "y":{"field":"y","type":"quantitative","scale":{"domain":[0.05,1],"nice":false,"zero":false},"axis":{"orient":"right","labels":false,"title":null,"values":[0.2,0.4,0.6,0.8,1.0]}},
    "y2":{"field":"y2"}}}
 ],
 "resolve":{"axis":{"x":"independent","y":"independent"}}},
{"width":200,"height":194,"data":{"name":"d"},
 "layer":[
  {"mark":{"type":"rect","strokeWidth":0.6},
   "encoding":{
    "x":{"field":"x","type":"quantitative","scale":{"domain":[0,0.3],"nice":false,"zero":false},"axis":{"title":"True bulge gas fraction","values":[0.05,0.1,0.15,0.2,0.25,0.3],"labelExpr":"round(datum.value*100) % 10 === 0 ? format(datum.value, '.1f') : ''"}},
    "x2":{"field":"x2"},
    "y":{"field":"y","type":"quantitative","scale":{"domain":[0,0.3],"nice":false,"zero":false},"axis":{"title":"Predicted bulge gas fraction","values":[0.05,0.1,0.15,0.2,0.25,0.3],"labelExpr":"round(datum.value*100) % 10 === 0 ? format(datum.value, '.1f') : ''"}},
    "y2":{"field":"y2"},
    "color":{"field":"g","type":"quantitative","scale":{"domain":[0,255],"range":["#000000","#ffffff"],"interpolate":"rgb"},"legend":null},
    "stroke":{"field":"g","type":"quantitative","scale":{"domain":[0,255],"range":["#000000","#ffffff"],"interpolate":"rgb"},"legend":null}}},
  {"data":{"values":[{"x":0,"y":0,"x2":0.3,"y2":0.3}]},
   "mark":{"type":"rule","color":"#ff0000","strokeDash":[6,3],"strokeWidth":1.6},
   "encoding":{
    "x":{"field":"x","type":"quantitative","scale":{"domain":[0,0.3],"nice":false,"zero":false},"axis":null},
    "x2":{"field":"x2"},
    "y":{"field":"y","type":"quantitative","scale":{"domain":[0,0.3],"nice":false,"zero":false},"axis":{"orient":"right","labels":false,"title":null,"values":[0.05,0.1,0.15,0.2,0.25,0.3]}},
    "y2":{"field":"y2"}}}
 ],
 "resolve":{"axis":{"x":"independent","y":"independent"}}}
]
}
